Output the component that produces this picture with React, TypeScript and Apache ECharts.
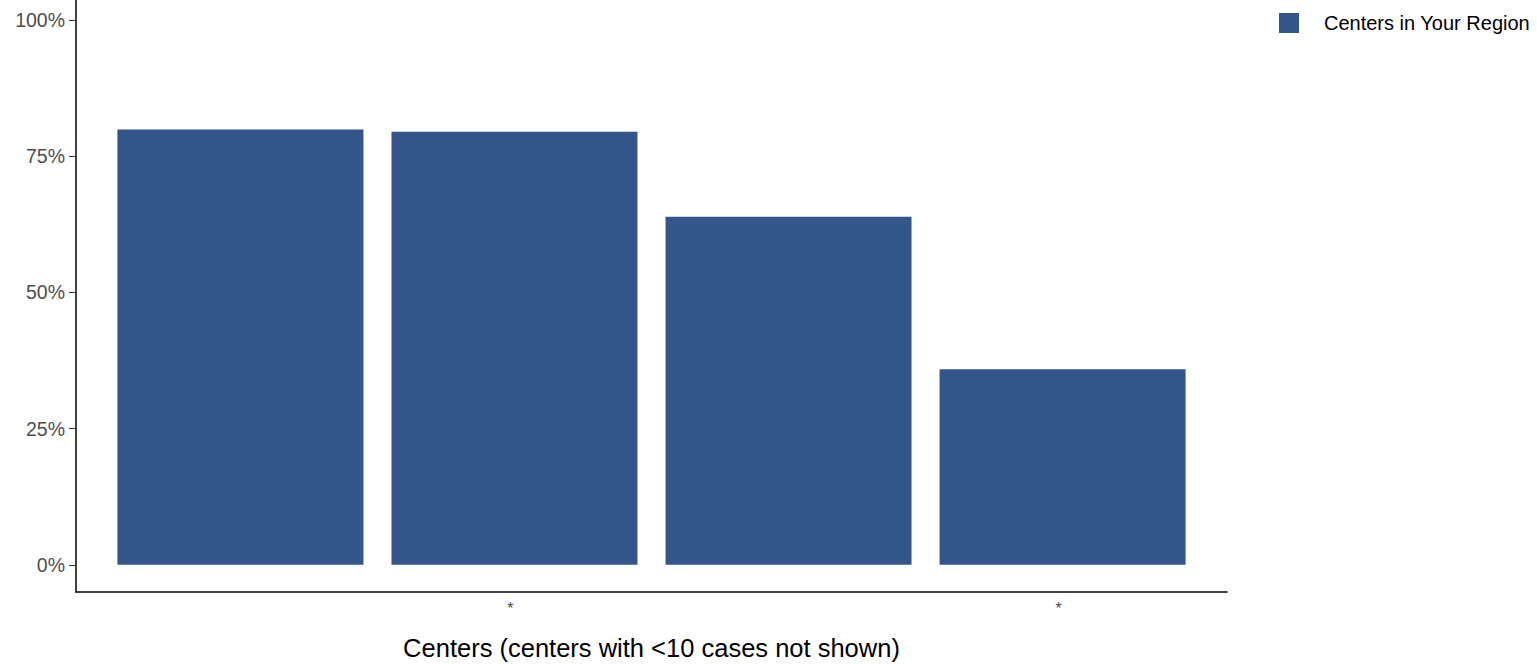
import React, { useEffect, useRef } from "react";
import * as echarts from "echarts";

// Share of cases per center (percent)
const centerIndex = [1, 2, 3, 4];
const centerValues = [79.9, 79.5, 63.9, 35.9];
const centerTickLabels = ["", "*", "", "*"];
const yTicks = [0, 25, 50, 75, 100];
const seriesName = "Centers in Your Region";
const xTitle = "Centers (centers with <10 cases not shown)";

const FONT = "Liberation Sans, Arial, sans-serif";

export default function App() {
  const ref = useRef<HTMLDivElement>(null);

  useEffect(() => {
    if (!ref.current) return;
    const chart = echarts.init(ref.current, undefined, { renderer: "svg" });
    chart.setOption({
      animation: false,
      backgroundColor: "#ffffff",
      textStyle: { fontFamily: FONT },
      grid: {
        left: 76,
        right: 310,
        top: 0,
        bottom: 72,
        containLabel: false,
        outerBoundsMode: "none",
      },
      legend: {
        left: 1274,
        top: 8,
        icon: "rect",
        itemWidth: 20,
        itemHeight: 20,
        textStyle: { fontSize: 20, color: "#000", fontFamily: FONT, padding: [0, 0, 0, 20] },
        data: [seriesName],
      },
      xAxis: {
        type: "value",
        min: 0.4,
        max: 4.6,
        splitLine: { show: false },
        axisLine: { show: true, onZero: false, lineStyle: { color: "#000", width: 1.5 } },
        axisTick: { show: false },
        axisLabel: {
          customValues: centerIndex,
          formatter: (v: number) => centerTickLabels[Math.round(v) - 1] ?? "",
          color: "#4d4d4d",
          fontSize: 16,
          margin: 8,
          padding: [0, 8, 0, 0],
          fontFamily: FONT,
        },
        name: xTitle,
        nameLocation: "middle",
        nameGap: 43,
        nameTextStyle: { fontSize: 25.5, color: "#000", fontFamily: FONT },
      },
      yAxis: {
        type: "value",
        min: -5,
        max: 103.7,
        splitLine: { show: false },
        axisLine: { show: true, onZero: false, lineStyle: { color: "#000", width: 1.5 } },
        axisTick: { show: true, customValues: yTicks, length: 7, lineStyle: { color: "#333" } },
        axisLabel: {
          customValues: yTicks,
          formatter: (v: number) => `${v}%`,
          color: "#4d4d4d",
          fontSize: 19.5,
          margin: 11,
          fontFamily: FONT,
        },
      },
      series: [
        {
          name: seriesName,
          type: "bar",
          barWidth: 246,
          itemStyle: { color: "#33558a" },
          data: centerIndex.map((c, i) => [c, centerValues[i]]),
        },
      ],
    });
    return () => chart.dispose();
  }, []);

  return (
    <div
      ref={ref}
      style={{ position: "fixed", left: 0, top: 0, width: 1537, height: 664 }}
    />
  );
}
